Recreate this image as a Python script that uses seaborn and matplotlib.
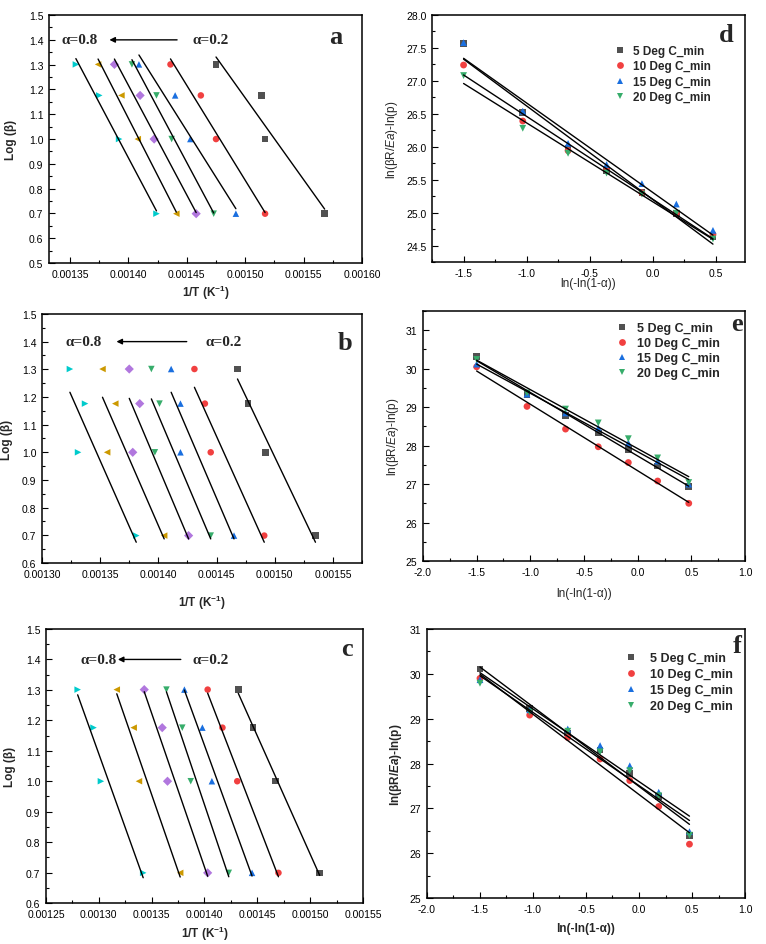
import numpy as np
import pandas as pd
import matplotlib
matplotlib.use("Agg")
import matplotlib.pyplot as plt
from matplotlib.ticker import MultipleLocator, FormatStrFormatter
import seaborn as sns

sns.set_theme(style="white")
plt.rcParams['font.family'] = ['Liberation Sans', 'DejaVu Sans']
plt.rcParams['mathtext.fontset'] = 'custom'
plt.rcParams['mathtext.rm'] = 'Liberation Sans'
plt.rcParams['mathtext.it'] = 'Liberation Sans:italic'
plt.rcParams['mathtext.bf'] = 'Liberation Sans:bold'
plt.rcParams['mathtext.bfit'] = 'Liberation Sans:italic:bold'
plt.rcParams['axes.unicode_minus'] = False

# ---------------- data ----------------
# heating rates 5, 10, 15, 20 deg C/min -> log(beta)
log_beta = [0.699, 1.0, 1.176, 1.301]
alpha_levels = ['0.2', '0.3', '0.4', '0.5', '0.6', '0.7', '0.8']

# 1/T for each conversion level (rows alpha 0.2..0.8, cols beta 5..20)
inv_t_a = [
    [0.001568, 0.001517, 0.001514, 0.001475],
    [0.001517, 0.001475, 0.001462, 0.001436],
    [0.001492, 0.001453, 0.001440, 0.001409],
    [0.001473, 0.001437, 0.001424, 0.001403],
    [0.001458, 0.001422, 0.001410, 0.001388],
    [0.001441, 0.001408, 0.001394, 0.001374],
    [0.001424, 0.001392, 0.001375, 0.001355],
]
inv_t_b = [
    [0.001535, 0.001492, 0.001477, 0.001468],
    [0.001491, 0.001445, 0.001440, 0.001431],
    [0.001465, 0.001419, 0.001419, 0.001411],
    [0.001445, 0.001397, 0.001401, 0.001394],
    [0.001426, 0.001378, 0.001384, 0.001375],
    [0.001405, 0.001356, 0.001363, 0.001352],
    [0.001381, 0.001331, 0.001337, 0.001324],
]
# fitted lines shown in panel b (value at highest / lowest 1/T end)
b_line_top = [1.265, 1.235, 1.217, 1.193, 1.195, 1.199, 1.217]
b_line_bot = [0.675, 0.675, 0.687, 0.687, 0.687, 0.687, 0.675]
inv_t_c = [
    [0.001509, 0.001467, 0.001446, 0.001432],
    [0.001470, 0.001431, 0.001417, 0.001403],
    [0.001445, 0.001407, 0.001398, 0.001381],
    [0.001423, 0.001387, 0.001379, 0.001364],
    [0.001403, 0.001365, 0.001360, 0.001343],
    [0.001377, 0.001338, 0.001333, 0.001317],
    [0.001342, 0.001302, 0.001295, 0.001280],
]

# ln(-ln(1-alpha)) for alpha 0.2..0.8
ln_alpha = [-1.500, -1.031, -0.672, -0.367, -0.087, 0.186, 0.476]
rate_labels = ['5 Deg C_min', '10 Deg C_min', '15 Deg C_min', '20 Deg C_min']
cr_d = [
    [27.57, 26.52, 25.98, 25.64, 25.30, 24.99, 24.64],
    [27.24, 26.39, 25.94, 25.65, 25.30, 24.99, 24.67],
    [27.58, 26.54, 26.05, 25.73, 25.44, 25.13, 24.73],
    [27.08, 26.28, 25.90, 25.60, 25.28, 24.99, 24.60],
]
cr_e = [
    [30.31, 29.33, 28.78, 28.33, 27.90, 27.47, 26.94],
    [30.05, 29.02, 28.43, 27.97, 27.56, 27.08, 26.50],
    [30.12, 29.34, 28.85, 28.46, 28.07, 27.60, 27.00],
    [30.24, 29.37, 28.95, 28.59, 28.18, 27.68, 27.04],
]
cr_f = [
    [30.11, 29.22, 28.68, 28.30, 27.77, 27.27, 26.39],
    [29.90, 29.08, 28.58, 28.10, 27.62, 27.04, 26.20],
    [29.87, 29.20, 28.77, 28.40, 27.95, 27.36, 26.48],
    [29.79, 29.15, 28.72, 28.26, 27.84, 27.28, 26.40],
]

colors = ['#515151', '#F14040', '#1A6FDF', '#37AD6B', '#B177DE', '#CC9900', '#00CBCC']
markers = ['s', 'o', '^', 'v', 'D', '<', '>']


def long_left(rows):
    recs = []
    for a, xs in zip(alpha_levels, rows):
        for x, y in zip(xs, log_beta):
            recs.append({'inv_T': x, 'log_beta': y, 'alpha': a})
    return pd.DataFrame(recs)


def long_right(rows):
    recs = []
    for r, ys in zip(rate_labels, rows):
        for x, y in zip(ln_alpha, ys):
            recs.append({'x': x, 'y': y, 'rate': r})
    return pd.DataFrame(recs)


def style_axes(ax, xmaj, ymaj, xfmt, yfmt):
    ax.xaxis.set_major_locator(MultipleLocator(xmaj))
    ax.xaxis.set_minor_locator(MultipleLocator(xmaj / 2))
    ax.yaxis.set_major_locator(MultipleLocator(ymaj))
    ax.yaxis.set_minor_locator(MultipleLocator(ymaj / 2))
    ax.xaxis.set_major_formatter(FormatStrFormatter(xfmt))
    ax.yaxis.set_major_formatter(FormatStrFormatter(yfmt))
    ax.tick_params(which='both', direction='in', top=False, right=False,
                   bottom=True, left=True, colors='black', labelsize=7.5, width=0.8)
    ax.tick_params(which='major', length=4, pad=4)
    ax.tick_params(which='minor', length=2)
    for s in ax.spines.values():
        s.set_color('black')
        s.set_linewidth(1.1)


fig = plt.figure(figsize=(7.66, 9.45), dpi=100)

# ---------------- left panels ----------------
left_specs = [
    ('a', inv_t_a, [0.064, 0.7206, 0.4086, 0.2624], (0.001332, 0.00160), (0.5, 1.5),
     -0.102, -0.081, (0.039, 0.184, 0.418, 0.457, 0.90), (0.915, 0.915)),
    ('b', inv_t_b, [0.0548, 0.4032, 0.4178, 0.2635], (0.00130, 0.001575), (0.6, 1.5),
     -0.091, -0.120, (0.073, 0.224, 0.461, 0.51, 0.889), (0.948, 0.886)),
    ('c', inv_t_c, [0.060, 0.0434, 0.4139, 0.2899], (0.00125, 0.00155), (0.6, 1.5),
     -0.095, -0.077, (0.11, 0.218, 0.434, 0.463, 0.889), (0.95, 0.93)),
]
for name, rows, rect, xl, yl, ylx, xly, arrow, letter in left_specs:
    ax = fig.add_axes(rect)
    df = long_left(rows)
    sns.scatterplot(data=df, x='inv_T', y='log_beta', hue='alpha', style='alpha',
                    palette=colors, markers=markers, s=22, linewidth=0,
                    legend=False, ax=ax, zorder=3)
    for i, xs in enumerate(rows):
        if name == 'b':
            ax.plot([xs[3], xs[0]], [b_line_top[i], b_line_bot[i]], color='black', lw=1.0, zorder=4)
        else:
            k, c0 = np.polyfit(xs, log_beta, 1)
            xx = np.array([min(xs), max(xs)])
            ax.plot(xx, k * xx + c0, color='black', lw=1.0, zorder=4)
    ax.set_xlim(*xl)
    ax.set_ylim(*yl)
    style_axes(ax, 0.00005, 0.1, '%.5f', '%.1f')
    ax.set_xlabel(r'1/T (K$^{\mathbf{-1}}$)', fontsize=8.5, fontweight='bold')
    ax.set_ylabel('Log (β)', fontsize=8.5, fontweight='bold')
    ax.yaxis.set_label_coords(ylx, 0.5)
    ax.xaxis.set_label_coords(0.5, xly)
    t08, head, tail, t02, ya = arrow
    ax.text(t08, ya, 'α=0.8', transform=ax.transAxes, ha='left', va='center',
            family='Liberation Serif', fontsize=11, fontweight='bold')
    ax.text(t02, ya, 'α=0.2', transform=ax.transAxes, ha='left', va='center',
            family='Liberation Serif', fontsize=11, fontweight='bold')
    ax.annotate('', xy=(head, ya), xytext=(tail, ya), xycoords='axes fraction',
                arrowprops=dict(arrowstyle='-|>', color='black', lw=1.0, mutation_scale=8))
    ax.text(letter[0], letter[1], name, transform=ax.transAxes, ha='center', va='center',
            family='Liberation Serif', fontsize=19, fontweight='bold')

# ---------------- right panels ----------------
right_specs = [
    ('d', cr_d, [0.564, 0.7217, 0.4086, 0.2614], (-1.75, 0.73), (24.25, 28.0), 0.5, '%.1f',
     'normal', -0.102, -0.061, (0.582, 0.878, 0.28, 0.6, 8.5), (0.94, 0.92)),
    ('e', cr_e, [0.5522, 0.4053, 0.4204, 0.2645], (-2.0, 1.0), (25.0, 31.5), 1.0, '%.0f',
     'normal', -0.068, -0.104, (0.598, 0.956, 0.25, 0.75, 9), (0.974, 0.95)),
    ('f', cr_f, [0.5574, 0.0487, 0.4152, 0.2846], (-2.0, 1.0), (25.0, 31.0), 1.0, '%.0f',
     'bold', -0.072, -0.089, (0.622, 0.915, 0.32, 1.0, 9), (0.974, 0.938)),
]
for name, rows, rect, xl, yl, ymaj, yfmt, weight, ylx, xly, leg, letter in right_specs:
    ax = fig.add_axes(rect)
    df = long_right(rows)
    sns.scatterplot(data=df, x='x', y='y', hue='rate', style='rate',
                    palette=colors[:4], markers=markers[:4], s=24, linewidth=0,
                    legend='full', ax=ax, zorder=3)
    for ys in rows:
        k, c0 = np.polyfit(ln_alpha, ys, 1)
        xx = np.array([ln_alpha[0], ln_alpha[-1]])
        ax.plot(xx, k * xx + c0, color='black', lw=1.0, zorder=4)
    ax.set_xlim(*xl)
    ax.set_ylim(*yl)
    style_axes(ax, 0.5, ymaj, '%.1f', yfmt)
    if weight == 'bold':
        ylab = 'ln(βR/' + r'$\mathbfit{Ea}$' + ')-ln(p)'
    else:
        ylab = 'ln(βR/' + r'$\mathit{Ea}$' + ')-ln(p)'
    ax.set_ylabel(ylab, fontsize=8.5, fontweight=weight)
    ax.set_xlabel('ln(-ln(1-α))', fontsize=8.5, fontweight=weight)
    ax.yaxis.set_label_coords(ylx, 0.5)
    ax.xaxis.set_label_coords(0.5, xly)
    lx, ly, lsp, tpad, lsize = leg
    sns.move_legend(ax, 'upper left', bbox_to_anchor=(lx, ly), frameon=False, title=None,
                    borderaxespad=0, borderpad=0, handlelength=1.0, handletextpad=tpad,
                    labelspacing=lsp, prop={'size': lsize, 'weight': 'bold'}, markerscale=1.0)
    ax.text(letter[0], letter[1], name, transform=ax.transAxes, ha='center', va='center',
            family='Liberation Serif', fontsize=19, fontweight='bold')

fig.savefig('out.png', dpi=100)
